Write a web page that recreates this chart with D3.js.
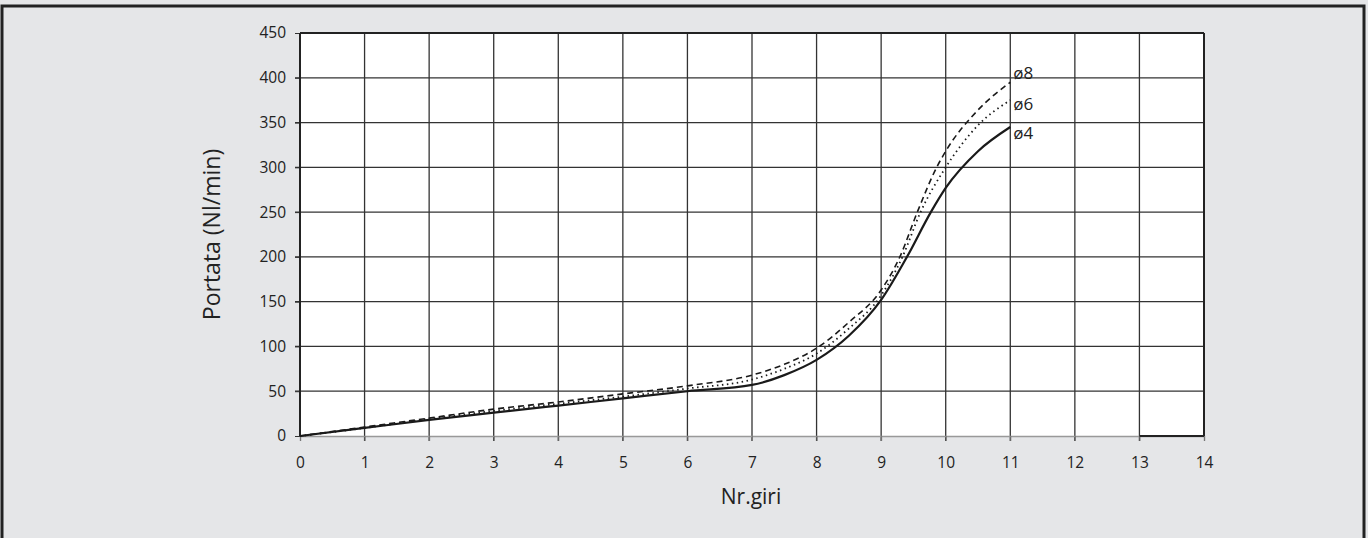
<!DOCTYPE html>
<html>
<head>
<meta charset="utf-8">
<script src="https://cdn.jsdelivr.net/npm/d3@7"></script>
<style>
  html, body { margin: 0; padding: 0; background: #e5e6e8; }
  svg { display: block; }
  text { font-family: "Open Sans", "DejaVu Sans", sans-serif; font-weight: 400; fill: #222; }
</style>
</head>
<body>
<svg id="chart" width="1368" height="538"></svg>
<script>
// giri (x) and portata (y)
const giri4 = [0, 1, 2, 3, 4, 5, 6, 7, 7.5, 8, 8.5, 9, 9.4, 9.77, 10, 10.5, 11];
const portata4 = [0, 9, 18, 26, 34, 42, 50, 57, 68, 85, 112, 152, 200, 250, 277, 318, 345];

const giri6 = [0, 1, 2, 3, 4, 5, 6, 7, 7.5, 8, 8.5, 9, 9.33, 9.61, 10, 10.5, 11];
const portata6 = [0, 9, 19, 28, 36, 44, 53, 63, 75, 92, 120, 157, 200, 250, 300, 347, 375];

const giri8 = [0, 1, 2, 3, 4, 5, 6, 7, 7.5, 8, 8.5, 9, 9.29, 9.56, 9.86, 10, 10.5, 11];
const portata8 = [0, 10, 20, 30, 38, 47, 56, 68, 80, 98, 127, 163, 200, 250, 300, 318, 364, 395];

const xTicks = d3.range(0, 15);
const yTicks = d3.range(0, 451, 50);
const seriesNames = ["ø4", "ø6", "ø8"];

const margin = { left: 300, top: 33, right: 164, bottom: 102 };
const W = 1368, H = 538;
const width = W - margin.left - margin.right;
const height = H - margin.top - margin.bottom;

const svg = d3.select("#chart");

// outer frame
svg.append("rect")
  .attr("x", 2).attr("y", 6)
  .attr("width", 1362).attr("height", 560)
  .attr("fill", "#e5e6e8")
  .attr("stroke", "#222")
  .attr("stroke-width", 3);

const g = svg.append("g")
  .attr("transform", `translate(${margin.left},${margin.top})`);

const x = d3.scaleLinear().domain([0, 14]).range([0, width]);
const y = d3.scaleLinear().domain([0, 450]).range([height, 0]);

g.append("rect")
  .attr("width", width).attr("height", height)
  .attr("fill", "#fff");

// grid
g.append("g").selectAll("line").data(xTicks.slice(1, -1)).join("line")
  .attr("x1", d => x(d)).attr("x2", d => x(d))
  .attr("y1", 0).attr("y2", height + 5)
  .attr("stroke", "#333").attr("stroke-width", 1.3);

g.append("g").selectAll("line").data(yTicks.slice(1, -1)).join("line")
  .attr("x1", -5).attr("x2", width)
  .attr("y1", d => y(d)).attr("y2", d => y(d))
  .attr("stroke", "#333").attr("stroke-width", 1.3);

// axes
const xAxis = g.append("g")
  .attr("transform", `translate(0,${height})`)
  .call(d3.axisBottom(x).tickValues(xTicks).tickSize(5).tickPadding(16));
xAxis.select(".domain").attr("stroke", "#999").attr("stroke-width", 1.5);
xAxis.selectAll(".tick line").attr("stroke", "#777");
xAxis.selectAll("text").attr("font-size", 15.5).attr("font-family", null).attr("fill", "#333");

const yAxis = g.append("g")
  .call(d3.axisLeft(y).tickValues(yTicks).tickSize(5).tickPadding(9));
yAxis.select(".domain").remove();
yAxis.selectAll(".tick line").attr("stroke", "#333");
yAxis.selectAll("text").attr("font-size", 15.5).attr("font-family", null).attr("fill", "#333");

// frame of plot area
g.append("line").attr("x1", 0).attr("x2", 0).attr("y1", 0).attr("y2", height)
  .attr("stroke", "#222").attr("stroke-width", 2);
g.append("line").attr("x1", 0).attr("x2", width).attr("y1", 0).attr("y2", 0)
  .attr("stroke", "#222").attr("stroke-width", 2);
g.append("line").attr("x1", width).attr("x2", width).attr("y1", 0).attr("y2", height)
  .attr("stroke", "#222").attr("stroke-width", 2);
g.append("line").attr("x1", x(13)).attr("x2", x(14)).attr("y1", height).attr("y2", height)
  .attr("stroke", "#222").attr("stroke-width", 2);

// curves
const line = d3.line()
  .x(d => x(d[0]))
  .y(d => y(d[1]))
  .curve(d3.curveMonotoneX);

const series = [
  { name: seriesNames[0], pts: d3.zip(giri4, portata4), dash: null, w: 2.2 },
  { name: seriesNames[1], pts: d3.zip(giri6, portata6), dash: "1.5,3.5", w: 1.8 },
  { name: seriesNames[2], pts: d3.zip(giri8, portata8), dash: "6,4", w: 1.6 }
];

g.append("g").selectAll("path").data(series).join("path")
  .attr("d", d => line(d.pts))
  .attr("fill", "none")
  .attr("stroke", "#1a1a1a")
  .attr("stroke-width", d => d.w)
  .attr("stroke-dasharray", d => d.dash);

// labels at curve ends
const labelDy = { "ø4": 12, "ø6": 10, "ø8": -3 };
g.append("g").selectAll("text").data(series).join("text")
  .attr("x", d => x(d.pts[d.pts.length - 1][0]) + 3)
  .attr("y", d => y(d.pts[d.pts.length - 1][1]) + labelDy[d.name])
  .attr("font-size", 17)
  .attr("fill", "#111")
  .text(d => d.name);

// axis titles
g.append("text")
  .attr("x", width / 2 - 1)
  .attr("y", height + 68)
  .attr("text-anchor", "middle")
  .attr("font-size", 21)
  .text("Nr.giri");

g.append("text")
  .attr("transform", `translate(${-80},${height / 2}) rotate(-90)`)
  .attr("text-anchor", "middle")
  .attr("font-size", 23)
  .text("Portata (Nl/min)");
</script>
</body>
</html>
